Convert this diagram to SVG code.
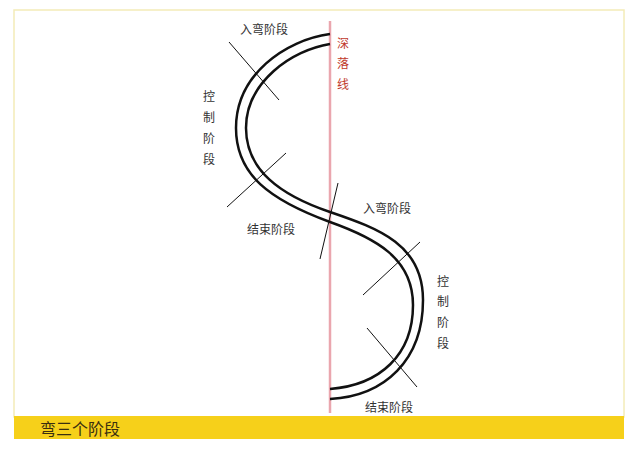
<svg xmlns="http://www.w3.org/2000/svg" width="640" height="449" viewBox="0 0 640 449">
<style>
text{font-family:"Noto Sans CJK SC","Noto Sans",sans-serif;fill:#333;font-size:12px}
.curve{fill:none;stroke:#111;stroke-width:2.5}
.tick{stroke:#111;stroke-width:1;fill:none}
.red{fill:#c0392b}
</style>
<rect x="0" y="0" width="640" height="449" fill="#fff"/>
<rect id="frame" x="14" y="10" width="610" height="407" fill="#fff" stroke="#f3ecb8" stroke-width="1.5"/>
<g id="title-bar">
<rect x="14" y="416" width="610" height="23" fill="#f6d01a"/>
<text x="40" y="435" style="font-size:16px;fill:#3a2f10">弯三个阶段</text>
</g>
<g id="drop-line">
<line x1="330" y1="21" x2="330" y2="413" stroke="#eaa6ae" stroke-width="2.5"/>
<text class="red" x="337" y="48">深</text>
<text class="red" x="337" y="68">落</text>
<text class="red" x="337" y="89">线</text>
</g>
<g id="connectors">
<path class="curve" d="M330,34 C285,40 236,75 236,128 C236,175 270,200 330,222 C375,238 413,258 413,305 C413,355 380,385 330,389"/>
<path class="curve" d="M330,44 C292,50 246,82 246,128 C246,170 280,195 330,212 C380,229 423,245 423,300 C423,360 385,396 330,399"/>
<line class="tick" x1="229" y1="42" x2="279" y2="100"/>
<line class="tick" x1="286" y1="153" x2="227" y2="207"/>
<line class="tick" x1="338" y1="183" x2="320" y2="259"/>
<line class="tick" x1="420" y1="242" x2="363" y2="295"/>
<line class="tick" x1="367" y1="328" x2="417" y2="387"/>
</g>
<g id="label-entry-1"><text x="240" y="34">入弯阶段</text></g>
<g id="label-control-1">
<text x="203" y="101">控</text>
<text x="203" y="122">制</text>
<text x="203" y="143">阶</text>
<text x="203" y="164">段</text>
</g>
<g id="label-end-1"><text x="247" y="234">结束阶段</text></g>
<g id="label-entry-2"><text x="363" y="213">入弯阶段</text></g>
<g id="label-control-2">
<text x="437" y="286">控</text>
<text x="437" y="306">制</text>
<text x="437" y="327">阶</text>
<text x="437" y="348">段</text>
</g>
<g id="label-end-2"><text x="365" y="412">结束阶段</text></g>
</svg>
